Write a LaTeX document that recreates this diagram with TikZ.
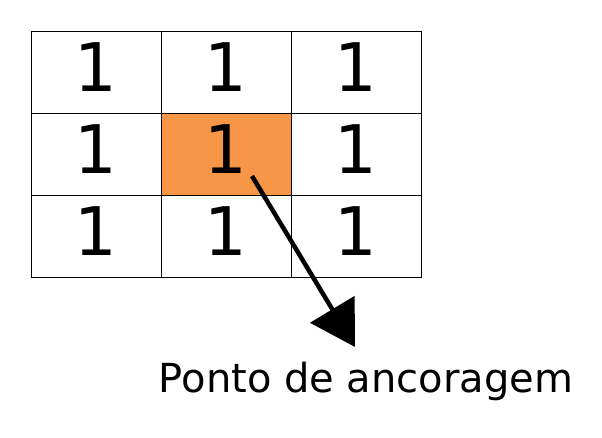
\documentclass[tikz,border=0pt]{standalone}
\usepackage{fontspec}
\setmainfont{DejaVu Sans}
\usetikzlibrary{
  arrows.meta,
  positioning,  % Function "of" (e.g. [right=of x])
}
\def\mycellw{130pt}
\def\mycellh{82pt}
\definecolor{anchorfill}{HTML}{F79646}
\tikzset{
  semithick,
  cell/.style={
    draw,
    line width=1pt,
    minimum width=\mycellw,
    minimum height=\mycellh,
    inner sep=0pt,
    outer sep=0pt,
    text depth=9pt,
    font=\fontsize{67}{67}\selectfont
  },
  anchored/.style={
    cell,
    fill=anchorfill
  },
  caption/.style={
    font=\fontsize{40}{44}\selectfont,
    inner sep=0pt
  },
  pointer/.style={
    line width=4.5pt,
    -{Triangle[length=44pt,width=51pt]}
  },
  grid/.style={
    node distance=0pt,
    x=1pt,
    y=-1pt
  }
}

\begin{document}
\begin{tikzpicture}[grid]
\useasboundingbox (0,0) rectangle (602,437);
% 3x3 grid of ones
\node[cell]     (c11) at (96,72)      {1};
\node[cell]     (c12) [right=of c11]  {1};
\node[cell]     (c13) [right=of c12]  {1};
\node[cell]     (c21) [below=of c11]  {1};
\node[anchored] (c22) [right=of c21]  {1};
\node[cell]     (c23) [right=of c22]  {1};
\node[cell]     (c31) [below=of c21]  {1};
\node[cell]     (c32) [right=of c31]  {1};
\node[cell]     (c33) [right=of c32]  {1};
% label and pointer
\node[caption,anchor=base] (label) at (366,392) {Ponto de ancoragem};
\coordinate (from) at (252,176);
\coordinate (tip)  at (355,347);
\draw[pointer] (from) -- (tip);
\end{tikzpicture}
\end{document}
